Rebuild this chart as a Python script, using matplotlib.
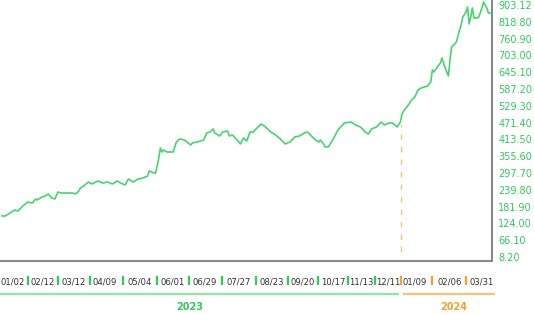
import numpy as np
import matplotlib.pyplot as plt
from matplotlib.transforms import blended_transform_factory

# =======================
# data (trading-day index, close)
# =======================
day = [0, 2, 5, 8, 10, 13, 16, 19, 21, 22, 25, 27, 29, 31, 33, 35, 37, 41, 44, 46,
       48, 49, 51, 54, 56, 60, 63, 66, 69, 72, 74, 77, 79, 82, 85, 88, 91, 92, 95, 96,
       98, 99, 100, 101, 103, 107, 109, 111, 114, 118, 119, 122, 126, 128, 130, 132, 133, 136, 138, 141,
       142, 144, 147, 149, 151, 153, 155, 157, 160, 162, 164, 168, 171, 174, 177, 180, 183, 186, 189, 191,
       194, 196, 198, 199, 201, 202, 204, 207, 210, 214, 218, 221, 224, 227, 229, 231, 234, 237, 239, 242,
       244, 247, 249, 250, 252, 254, 256, 258, 260, 262, 266, 268, 269, 270, 272, 274, 275, 276, 277, 278,
       279, 280, 281, 283, 284, 286, 287, 288, 290, 291, 292, 293, 294, 295, 297, 298, 300, 301, 303, 304,
       305]
close = [149.5, 149.5, 159.8, 170.1, 166.7, 184.0, 197.7, 194.3, 208.0, 204.6, 214.9, 218.4, 225.3, 211.5, 208.0, 232.2, 228.7, 228.7, 228.7, 225.3,
         235.6, 245.9, 252.9, 266.6, 259.7, 270.1, 263.2, 266.6, 259.7, 270.1, 263.2, 256.3, 277.0, 266.6, 277.0, 280.4, 287.3, 304.6, 297.6, 297.6,
         349.3, 383.8, 370.0, 376.9, 370.0, 370.0, 404.5, 414.8, 411.4, 394.1, 401.0, 404.5, 411.4, 435.5, 439.0, 449.3, 435.5, 425.1, 439.0, 442.4,
         425.1, 428.6, 411.4, 397.6, 418.3, 407.9, 439.0, 439.0, 456.2, 466.5, 459.6, 439.0, 428.6, 414.8, 397.6, 404.5, 421.7, 425.1, 435.5, 439.0,
         421.7, 411.4, 404.5, 411.4, 397.6, 387.3, 387.3, 414.8, 445.8, 470.0, 473.4, 463.1, 456.2, 439.0, 432.0, 449.3, 456.2, 473.4, 463.1, 470.0,
         470.0, 456.2, 473.4, 501.0, 518.2, 532.0, 549.2, 559.5, 583.7, 590.6, 597.4, 611.0, 652.6, 645.7, 662.9, 676.7, 694.0, 676.7, 659.5, 645.7,
         631.9, 687.0, 731.8, 742.2, 749.1, 790.4, 807.6, 835.2, 852.4, 869.7, 811.1, 835.2, 866.2, 831.8, 831.8, 835.2, 866.2, 886.9, 866.2, 849.0,
         849.0]

x_labels = ["01/02", "02/12", "03/12", "04/09", "05/04", "06/01", "06/29", "07/27",
            "08/23", "09/20", "10/17", "11/13", "12/11", "01/09", "02/06", "03/31"]
x_label_pos = [6.9, 25.6, 45, 64.4, 86.3, 106.9, 126.9, 148.1,
               168.8, 188.1, 207.2, 224.7, 241.3, 258.1, 280, 299.7]
x_label_year = ["2023"] * 13 + ["2024"] * 3

y_tick_pos = [8.2, 66.1, 124.0, 181.9, 239.8, 297.7, 355.6, 413.5,
              471.4, 529.3, 587.2, 645.1, 703.0, 760.9, 818.8, 876.7]
y_tick_labels = ["8.20", "66.10", "124.00", "181.90", "239.80", "297.70", "355.60", "413.50",
                 "471.40", "529.30", "587.20", "645.10", "703.00", "760.90", "818.80", "903.12"]

years = ["2023", "2024"]
year_label_pos = [117.5, 282.5]
split = 249.4   # first 2024 session

# =======================
# styling
# =======================
GREEN = "#45d56f"
GREEN_TXT = "#2fcc5a"
GREEN_UL = "#8fe6a6"
ORANGE = "#f5a030"
ORANGE_UL = "#f8c27a"
AXIS = "#8a8a8a"
year_color = {"2023": GREEN_TXT, "2024": ORANGE}
year_ul = {"2023": GREEN_UL, "2024": ORANGE_UL}

plt.rcParams["font.family"] = ["DejaVu Sans"]

fig = plt.figure(figsize=(5.34, 3.14), dpi=100)
ax = fig.add_axes([0.0, 0.1688, 0.9213, 0.8312])

ax.plot(day, close, color=GREEN, lw=1.2, solid_joinstyle="round")
ax.vlines(split, 25, np.interp(split, day, close) - 17, colors=ORANGE_UL,
          linestyles=(0, (4, 5)), lw=1.0)

ax.set_xlim(-1.25, 306.25)
ax.set_ylim(-5.6, 893.8)

# axes frame: only right + bottom
for s in ["left", "top"]:
    ax.spines[s].set_visible(False)
for s in ["right", "bottom"]:
    ax.spines[s].set_color(AXIS)
    ax.spines[s].set_linewidth(1.5)

ax.yaxis.tick_right()
ax.set_yticks(y_tick_pos)
ax.set_yticklabels(y_tick_labels)
ax.tick_params(axis="y", length=0, pad=4.5, labelsize=7, labelcolor=GREEN_TXT)

ax.set_xticks(x_label_pos)
ax.set_xticklabels(x_labels)
ax.tick_params(axis="x", length=0, pad=12, labelsize=6.1, labelcolor="#333333")

trans = blended_transform_factory(ax.transData, ax.transAxes)

# separators between date labels
for i in range(1, len(x_label_pos)):
    mid = (x_label_pos[i - 1] + x_label_pos[i]) / 2
    ax.plot([mid, mid], [-0.057, -0.093], transform=trans, clip_on=False,
            color=year_color[x_label_year[i]], lw=1.6, solid_capstyle="butt")

# year underlines + year names
ax.plot([-0.6, split - 1.9], [-0.126, -0.126], transform=trans, clip_on=False,
        color=year_ul["2023"], lw=1.6)
ax.plot([split + 1.9, 307.5], [-0.126, -0.126], transform=trans, clip_on=False,
        color=year_ul["2024"], lw=1.6)
for y, pos in zip(years, year_label_pos):
    ax.text(pos, -0.176, y, transform=trans, ha="center", va="center",
            fontsize=7, fontweight="bold", color=year_color[y])

fig.savefig("out.png", dpi=100)
